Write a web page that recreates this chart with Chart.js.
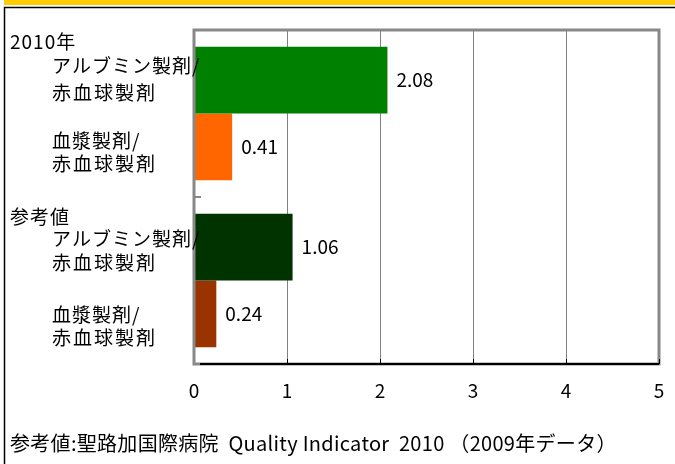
<!DOCTYPE html>
<html lang="ja">
<head>
  <meta charset="UTF-8" />
  <title>アルブミン製剤・血漿製剤 / 赤血球製剤</title>
  <script src="https://cdn.jsdelivr.net/npm/chart.js"></script>
  <style>
    html, body { margin: 0; padding: 0; background: #fff; }
    canvas { display: block; }
  </style>
</head>
<body>
  <canvas id="chart" width="675" height="464"></canvas>

  <script>
    // 区分（2010年 / 参考値）
    const groups = ['2010年', '参考値'];
    // 系列
    const seriesNames = ['アルブミン製剤/赤血球製剤', '血漿製剤/赤血球製剤'];
    const albumin = [2.08, 1.06];
    const plasma = [0.41, 0.24];
    // 棒ラベルの行
    const barLabelLines = [['アルブミン製剤/', '赤血球製剤'], ['血漿製剤/', '赤血球製剤']];
    const xTicks = [0, 1, 2, 3, 4, 5];
    const note = '参考値:聖路加国際病院  Quality Indicator  2010 （2009年データ）';

    const FONT = '"Noto Sans CJK JP", "Noto Sans", sans-serif';

    // 行ごとの位置調整（棒の中心からのずれ, 行間）
    const labelShift = [[[-1, 27], [5, 23]], [[4, 24], [12, 23]]];
    const headShift = [-5, 3];

    const decor = {
      id: 'decor',
      beforeDraw(chart) {
        const ctx = chart.ctx;
        ctx.save();
        ctx.fillStyle = '#fff';
        ctx.fillRect(0, 0, chart.width, chart.height);
        // 上部の帯と外枠
        ctx.fillStyle = '#FFCC00';
        ctx.fillRect(4, 0, chart.width - 4, 5);
        ctx.strokeStyle = '#000';
        ctx.lineWidth = 1.5;
        ctx.beginPath();
        ctx.moveTo(4.5, chart.height);
        ctx.lineTo(4.5, 7.5);
        ctx.lineTo(chart.width, 7.5);
        ctx.stroke();
        ctx.restore();
      },
      afterDraw(chart) {
        const ctx = chart.ctx;
        const a = chart.chartArea;
        const xs = chart.scales.x;
        const ys = chart.scales.y;
        ctx.save();

        // プロットエリアの枠
        ctx.strokeStyle = '#888';
        ctx.lineWidth = 3;
        ctx.strokeRect(a.left, a.top, a.right - a.left, a.bottom - a.top);

        // 横軸線と内向きの目盛
        ctx.strokeStyle = '#000';
        ctx.lineWidth = 2;
        ctx.beginPath();
        ctx.moveTo(a.left + 6, a.bottom);
        ctx.lineTo(a.right, a.bottom);
        ctx.stroke();
        ctx.lineWidth = 1;
        xTicks.forEach(v => {
          const px = Math.round(xs.getPixelForValue(v)) + 0.5;
          if (v === 0) return;
          ctx.beginPath();
          ctx.moveTo(px, a.bottom);
          ctx.lineTo(px, a.bottom - 5);
          ctx.stroke();
        });

        // 区分の境目の目盛
        const yb = (ys.getPixelForValue(0) + ys.getPixelForValue(1)) / 2;
        ctx.strokeStyle = '#888';
        ctx.lineWidth = 2;
        ctx.beginPath();
        ctx.moveTo(a.left, yb);
        ctx.lineTo(a.left + 7, yb);
        ctx.stroke();

        // 数値ラベルと棒の説明
        ctx.fillStyle = '#000';
        ctx.textBaseline = 'middle';
        chart.data.datasets.forEach((ds, si) => {
          const meta = chart.getDatasetMeta(si);
          meta.data.forEach((bar, gi) => {
            ctx.font = '19px ' + FONT;
            ctx.letterSpacing = '0px';
            ctx.textAlign = 'left';
            ctx.fillText(ds.data[gi].toFixed(2), bar.x + 9, bar.y);

            const [dy, gap] = labelShift[gi][si];
            const cy = bar.y + dy;
            ctx.letterSpacing = '1px';
            ctx.fillText(barLabelLines[si][0], 52, cy - gap / 2);
            ctx.letterSpacing = '2px';
            ctx.fillText(barLabelLines[si][1], 52, cy + gap / 2);
          });
        });

        // 区分名
        const meta0 = chart.getDatasetMeta(0);
        groups.forEach((g, gi) => {
          const bar = meta0.data[gi];
          const top = bar.y - bar.height / 2;
          ctx.font = '19px ' + FONT;
          ctx.letterSpacing = '1px';
          ctx.fillText(g, 10, top + headShift[gi]);
        });

        // 出典
        ctx.letterSpacing = '0.3px';
        ctx.font = '20px ' + FONT;
        ctx.fillText(note, 10, 443);

        ctx.restore();
      }
    };

    new Chart(document.getElementById('chart'), {
      type: 'bar',
      data: {
        labels: groups,
        datasets: [
          {
            label: seriesNames[0],
            data: albumin,
            backgroundColor: ['#008000', '#003300'],
            borderWidth: 0
          },
          {
            label: seriesNames[1],
            data: plasma,
            backgroundColor: ['#FF6600', '#993300'],
            borderWidth: 0
          }
        ]
      },
      options: {
        indexAxis: 'y',
        responsive: false,
        devicePixelRatio: 1,
        animation: false,
        categoryPercentage: 0.8,
        barPercentage: 1.0,
        layout: { padding: { left: 194, right: 16, top: 30, bottom: 0 } },
        plugins: {
          legend: { display: false },
          tooltip: { enabled: false }
        },
        scales: {
          y: { display: false },
          x: {
            min: 0,
            max: 5,
            afterFit: s => {
              s.height = 100;
              s.paddingLeft = 0;
              s.paddingRight = 0;
            },
            afterBuildTicks: s => { s.ticks = xTicks.map(v => ({ value: v })); },
            grid: { color: '#808080', lineWidth: 1, drawTicks: false },
            border: { display: false },
            ticks: {
              color: '#000',
              padding: 15,
              maxRotation: 0,
              font: { family: FONT, size: 19 }
            }
          }
        }
      },
      plugins: [decor]
    });
  </script>
</body>
</html>
